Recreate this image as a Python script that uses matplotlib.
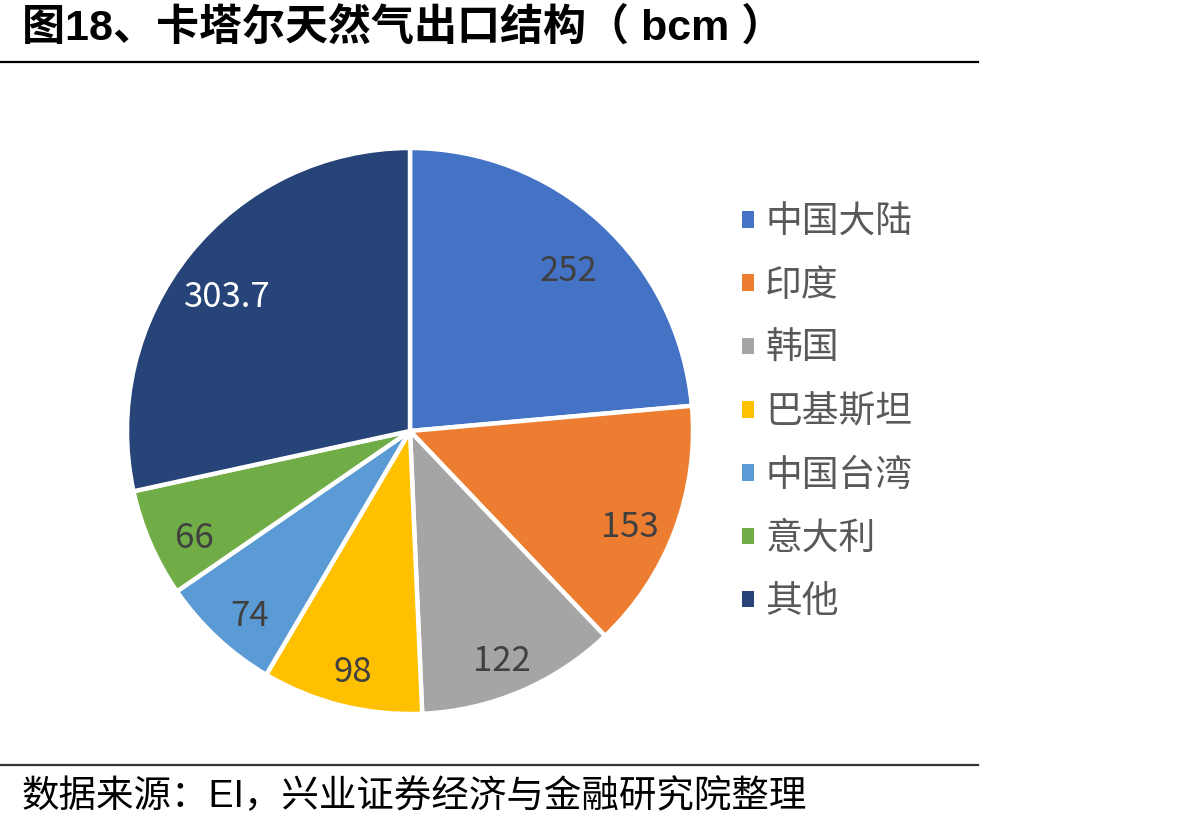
import matplotlib.pyplot as plt
from matplotlib.lines import Line2D

plt.rcParams['font.family'] = ['Liberation Sans', 'Noto Sans CJK SC', 'DejaVu Sans']

# data
regions = ['中国大陆', '印度', '韩国', '巴基斯坦', '中国台湾', '意大利', '其他']
exports = [252, 153, 122, 98, 74, 66, 303.7]
colors = ['#4472C4', '#ED7D31', '#A5A5A5', '#FFC000', '#5B9BD5', '#70AD47', '#264478']
label_colors = ['#404040'] * 6 + ['white']

W, H = 1192, 830
fig = plt.figure(figsize=(W / 100, H / 100), dpi=100)

# pie axes: centre (410, 431) px, radius 283 px
cx, cy, r = 410, 431, 283
ax = fig.add_axes([(cx - r) / W, (H - cy - r) / H, 2 * r / W, 2 * r / H])

total = sum(exports)


def fmt(p):
    v = p * total / 100
    return f"{v:.1f}" if abs(v - round(v)) > 0.05 else f"{round(v)}"


wedges, texts, autotexts = ax.pie(
    exports, colors=colors, startangle=90, counterclock=False,
    autopct=fmt, pctdistance=0.83,
    wedgeprops=dict(edgecolor='white', linewidth=3.2),
    textprops=dict(fontsize=25, family=['Noto Sans CJK SC'], fontweight='light'))
# excel "best fit" sits the labels a little lower
for t, c in zip(autotexts, label_colors):
    t.set_color(c)
    x, y = t.get_position()
    t.set_position((x, y - 14 / r))
ax.set_xlim(-1, 1)
ax.set_ylim(-1, 1)
ax.set_aspect('equal')

leg = fig.legend(wedges, regions, loc='center left',
                 bbox_to_anchor=(724 / W, 1 - 412 / H),
                 frameon=False, fontsize=26.5, handlelength=0.32, handleheight=0.32,
                 handletextpad=0.3, labelspacing=0.66, borderpad=0)
for h in leg.legend_handles:
    h.set_edgecolor('none')
for t in leg.get_texts():
    t.set_color('#595959')
    t.set_family(['Noto Sans CJK SC', 'DejaVu Sans'])

# title + rules
fig.text(22 / W, 1 - 28 / H, '图18、卡塔尔天然气出口结构（ bcm ）', fontsize=31,
         fontweight='bold', va='center', ha='left', color='black')
fig.add_artist(Line2D([0, 978 / W], [1 - 62 / H] * 2, color='black', lw=1.6))
fig.add_artist(Line2D([0, 978 / W], [1 - 765 / H] * 2, color='#333333', lw=1.6))
fig.text(22 / W, 1 - 797 / H, '数据来源：EI，兴业证券经济与金融研究院整理', fontsize=27,
         va='center', ha='left', color='black')

plt.savefig('out.png', dpi=100)
